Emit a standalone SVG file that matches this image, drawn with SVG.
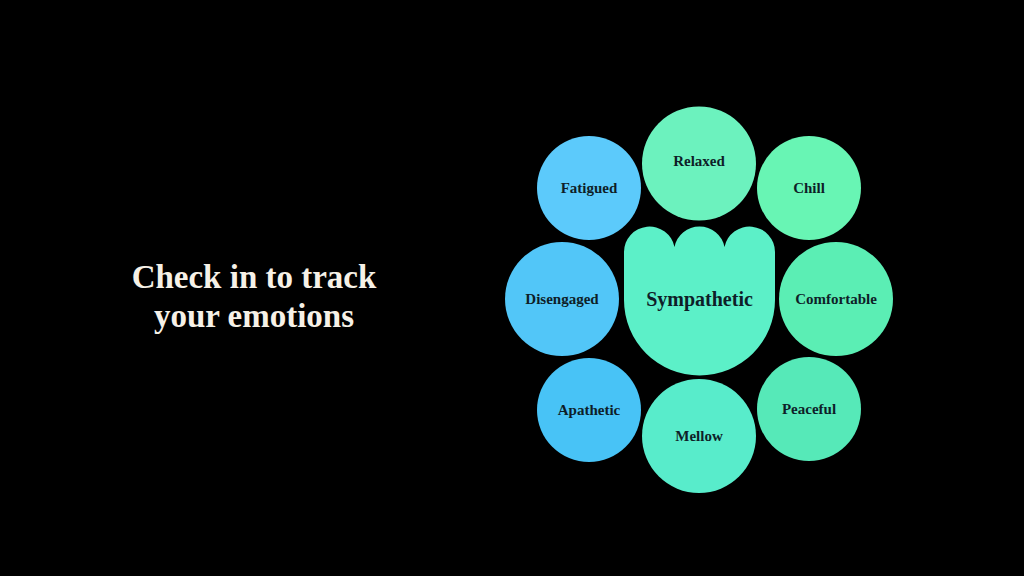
<svg xmlns="http://www.w3.org/2000/svg" width="1024" height="576" viewBox="0 0 1024 576">
<style>
.lbl{font-family:"Liberation Serif","DejaVu Serif",serif;font-weight:bold;font-size:15px;fill:#0e1e28;text-anchor:middle;dominant-baseline:central}
.title{font-family:"Liberation Serif","DejaVu Serif",serif;font-weight:bold;font-size:33px;fill:#f6f1e7;text-anchor:middle}
</style>
<rect width="1024" height="576" fill="#000"/>
<g id="title">
<text class="title" x="254" y="288">Check in to track</text>
<text class="title" x="254" y="327">your emotions</text>
</g>
<g id="connectors"></g>
<g id="fatigued"><circle cx="589" cy="188" r="52" fill="#5ccafb"/><text class="lbl" x="589" y="188">Fatigued</text></g>
<g id="relaxed"><circle cx="699" cy="163.5" r="57" fill="#6cf2be"/><text class="lbl" x="699" y="161">Relaxed</text></g>
<g id="chill"><circle cx="809" cy="188" r="52" fill="#68f5b4"/><text class="lbl" x="809" y="188">Chill</text></g>
<g id="disengaged"><circle cx="562" cy="299" r="57" fill="#52c6f8"/><text class="lbl" x="562" y="299">Disengaged</text></g>
<g id="sympathetic"><path d="M624,300 V252 A25.5,25.5 0 0 1 674.5,247 A25.5,25.5 0 0 1 724.5,247 A25.5,25.5 0 0 1 775,252 V300 A75.5,75.5 0 0 1 624,300 Z" fill="#5cf0c8"/><text class="lbl" x="699.5" y="299" style="font-size:20px">Sympathetic</text></g>
<g id="comfortable"><circle cx="836" cy="299" r="57" fill="#5beeb4"/><text class="lbl" x="836" y="299">Comfortable</text></g>
<g id="apathetic"><circle cx="589" cy="410" r="52" fill="#48c3f6"/><text class="lbl" x="589" y="410">Apathetic</text></g>
<g id="mellow"><circle cx="699" cy="436" r="57" fill="#58eccb"/><text class="lbl" x="699" y="436">Mellow</text></g>
<g id="peaceful"><circle cx="809" cy="409" r="52" fill="#56e9b8"/><text class="lbl" x="809" y="409">Peaceful</text></g>
</svg>
